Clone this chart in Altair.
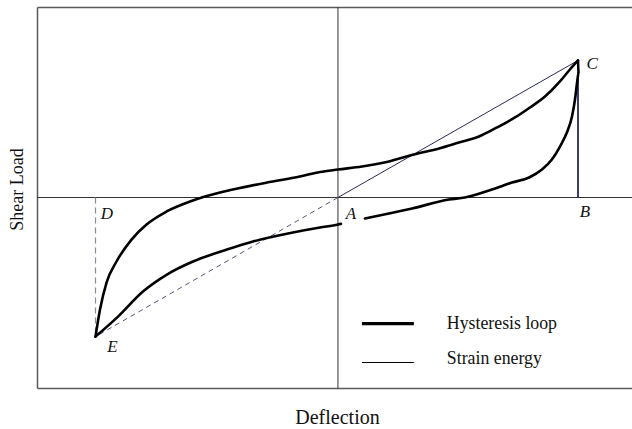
import altair as alt
import pandas as pd

SERIF = "Liberation Serif"

# Loading branch of the hysteresis loop, from E up to C
load_defl = [-0.808, -0.793, -0.771, -0.738, -0.688, -0.638, -0.571, -0.493,
             -0.443, -0.350, -0.237, -0.127, -0.060, 0.000, 0.080, 0.170,
             0.253, 0.337, 0.403, 0.470, 0.530, 0.590, 0.640, 0.690, 0.740,
             0.773, 0.800]
load_shear = [-1.015, -0.818, -0.620, -0.467, -0.307, -0.197, -0.102, -0.029,
              0.007, 0.058, 0.109, 0.153, 0.186, 0.204, 0.226, 0.263, 0.314,
              0.358, 0.401, 0.445, 0.511, 0.584, 0.657, 0.737, 0.847, 0.934,
              1.000]

# Unloading branch, from C back down to E (the trace pauses beneath label A)
unload_defl_right = [0.800, 0.802, 0.797, 0.790, 0.780, 0.763, 0.740, 0.713,
                     0.680, 0.637, 0.580, 0.513, 0.423, 0.370, 0.247, 0.170,
                     0.090]
unload_shear_right = [1.000, 0.912, 0.839, 0.715, 0.591, 0.474, 0.372, 0.277,
                      0.204, 0.146, 0.109, 0.058, 0.000, -0.015, -0.080,
                      -0.117, -0.153]
unload_defl_left = [0.010, 0.000, -0.060, -0.150, -0.283, -0.370, -0.483,
                    -0.570, -0.650, -0.733, -0.808]
unload_shear_left = [-0.192, -0.197, -0.219, -0.255, -0.321, -0.380, -0.467,
                     -0.562, -0.686, -0.869, -1.015]

# Key points of the loop
point_names = ["A", "B", "C", "D", "E"]
point_defl = [0.0, 0.800, 0.800, -0.808, -0.808]
point_shear = [0.0, 0.0, 1.000, 0.0, -1.015]

legend_labels = ["Hysteresis loop", "Strain energy"]

X_DOMAIN = [-1.003, 0.980]
Y_DOMAIN = [-1.39, 1.39]

pts = dict(zip(point_names, zip(point_defl, point_shear)))


def xs(axis=None, field="defl"):
    kw = dict(scale=alt.Scale(domain=X_DOMAIN, nice=False, zero=False))
    kw["axis"] = axis
    return alt.X(f"{field}:Q", **kw)


def ys(axis=None, field="shear"):
    kw = dict(scale=alt.Scale(domain=Y_DOMAIN, nice=False, zero=False))
    kw["axis"] = axis
    return alt.Y(f"{field}:Q", **kw)


frame_axis = dict(domain=True, domainColor="#5a5a5a", domainWidth=1.5,
                  ticks=False, labels=False, grid=False)

# Hysteresis loop traces
rows = []
for i, (x, y) in enumerate(zip(load_defl, load_shear)):
    rows.append({"defl": x, "shear": y, "piece": "load", "k": i})
for i, (x, y) in enumerate(zip(unload_defl_right, unload_shear_right)):
    rows.append({"defl": x, "shear": y, "piece": "unload_r", "k": i})
for i, (x, y) in enumerate(zip(unload_defl_left, unload_shear_left)):
    rows.append({"defl": x, "shear": y, "piece": "unload_l", "k": i})
loop_df = pd.DataFrame(rows)

loop = alt.Chart(loop_df).mark_line(
    color="#000000", strokeWidth=2.6, interpolate="monotone",
    strokeCap="round", strokeJoin="round"
).encode(
    x=xs(alt.Axis(orient="bottom", title="Deflection", titleFont=SERIF,
                  titleFontSize=20, titleFontWeight="normal",
                  titleColor="#111111", titleX=300, titleY=29,
                  titleBaseline="middle", titleAlign="center", **frame_axis)),
    y=ys(alt.Axis(orient="left", title="Shear Load", titleFont=SERIF,
                  titleFontSize=18, titleFontWeight="normal",
                  titleColor="#111111", titleX=-20, titleY=182,
                  titleAngle=-90, titleBaseline="middle",
                  titleAlign="center", **frame_axis)),
    detail="piece:N",
    order="k:Q",
)

# Zero axes crossing at A
zero_x = alt.Chart(pd.DataFrame({"defl": [0.0]})).mark_rule(
    color="#333333", strokeWidth=1
).encode(
    x=xs(alt.Axis(orient="top", title="", **frame_axis)),
)
zero_y = alt.Chart(pd.DataFrame({"shear": [0.0]})).mark_rule(
    color="#333333", strokeWidth=1
).encode(y=ys())

# Strain energy triangle A-C-B
ac = pd.DataFrame({"defl": [pts["A"][0]], "shear": [pts["A"][1]],
                   "defl2": [pts["C"][0]], "shear2": [pts["C"][1]]})
strain_ac = alt.Chart(ac).mark_rule(color="#2a2a5a", strokeWidth=1).encode(
    x=xs(), y=ys(), x2="defl2:Q", y2="shear2:Q")
bc = pd.DataFrame({"defl": [pts["B"][0]], "shear": [pts["B"][1]],
                   "defl2": [pts["C"][0]], "shear2": [pts["C"][1]]})
strain_bc = alt.Chart(bc).mark_rule(color="#1f2a60", strokeWidth=1.8).encode(
    x=xs(), y=ys(), x2="defl2:Q", y2="shear2:Q")

# Strain energy triangle A-E-D (dashed)
ae = pd.DataFrame({"defl": [pts["A"][0]], "shear": [pts["A"][1]],
                   "defl2": [pts["E"][0]], "shear2": [pts["E"][1]]})
strain_ae = alt.Chart(ae).mark_rule(
    color="#55557a", strokeWidth=1, strokeDash=[5, 4]
).encode(x=xs(), y=ys(), x2="defl2:Q", y2="shear2:Q")
de = pd.DataFrame({"defl": [pts["D"][0]], "shear": [pts["D"][1]],
                   "defl2": [pts["E"][0]], "shear2": [pts["E"][1]]})
strain_de = alt.Chart(de).mark_rule(
    color="#8a8a9a", strokeWidth=1.2, strokeDash=[6, 4]
).encode(x=xs(), y=ys(), x2="defl2:Q", y2="shear2:Q")

# Point labels, set just beside each point
label_dx = {"A": 0.043, "B": 0.023, "C": 0.047, "D": 0.038, "E": 0.056}
label_dy = {"A": -0.124, "B": -0.109, "C": -0.029, "D": -0.117, "E": -0.073}
lab_df = pd.DataFrame({
    "name": point_names,
    "defl": [pts[n][0] + label_dx[n] for n in point_names],
    "shear": [pts[n][1] + label_dy[n] for n in point_names],
})
labels = alt.Chart(lab_df).mark_text(
    font=SERIF, fontSize=17, fontStyle="italic", color="#111111",
    align="center", baseline="middle"
).encode(x=xs(), y=ys(), text="name:N")

# Key
key_df = pd.DataFrame({
    "label": legend_labels,
    "defl": [0.080, 0.080],
    "defl2": [0.253, 0.253],
    "shear": [-0.92, -1.204],
    "ty": [-0.92, -1.18],
})
key_thick = alt.Chart(key_df.iloc[[0]]).mark_rule(
    color="#000000", strokeWidth=3.4).encode(x=xs(), x2="defl2:Q", y=ys())
key_thin = alt.Chart(key_df.iloc[[1]]).mark_rule(
    color="#000000", strokeWidth=1).encode(x=xs(), x2="defl2:Q", y=ys())
key_text = alt.Chart(key_df).transform_calculate(tx="0.363").mark_text(
    font=SERIF, fontSize=17.8, color="#111111", align="left",
    baseline="middle"
).encode(x=xs(field="tx"), y=ys(field="ty"), text="label:N")

chart = alt.layer(
    zero_x, zero_y, strain_de, strain_ae, strain_ac, strain_bc, loop,
    labels, key_thick, key_thin, key_text
).resolve_axis(
    x="independent", y="independent"
).properties(
    width=595, height=381,
    padding={"left": 37, "top": 7, "right": 0, "bottom": 41},
    autosize="none", background="white",
).configure_view(stroke=None)

chart.save("out.html", embed_options={"renderer": "svg", "actions": False})
